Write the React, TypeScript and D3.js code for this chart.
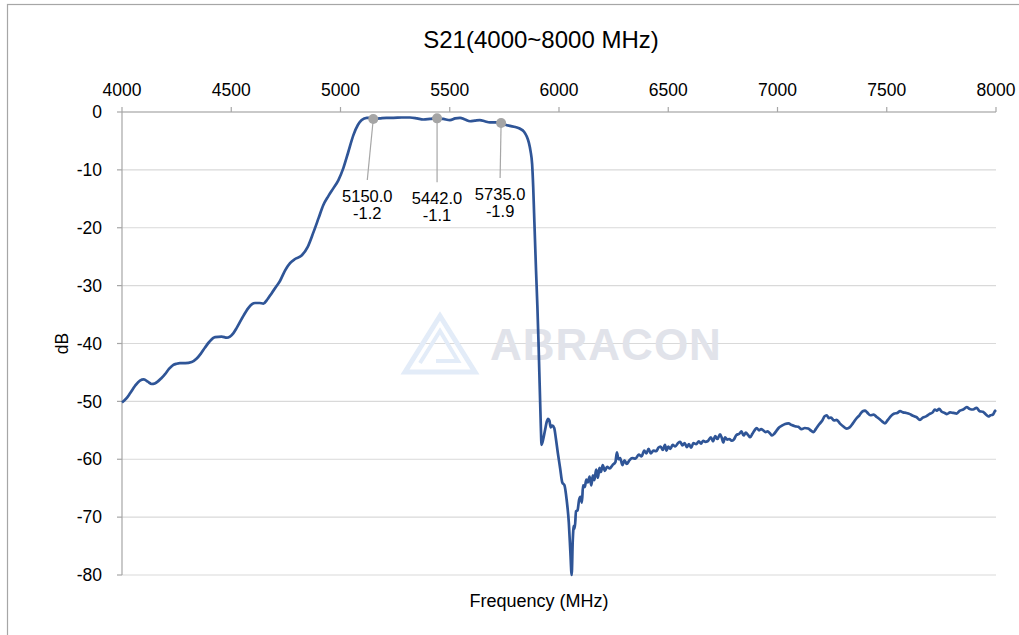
import React from 'react';
import * as d3 from 'd3';

// S21 sweep (MHz / dB)
const freq = [
  4000, 4020, 4037, 4060, 4082, 4100, 4118, 4136, 4150, 4163, 4180, 4197, 4215, 4235, 4250, 4265, 4290,
  4319, 4342, 4360, 4380, 4400, 4426, 4456, 4480, 4494, 4510, 4525, 4550, 4578, 4595, 4609, 4630, 4647,
  4665, 4685, 4705, 4723, 4746, 4769, 4792, 4822, 4850, 4876, 4900, 4921, 4945, 4967, 4990, 5013, 5035,
  5059, 5080, 5097, 5120, 5135, 5150, 5180, 5210, 5242, 5280, 5318, 5350, 5379, 5410, 5442, 5470, 5501,
  5525, 5547, 5570, 5593, 5615, 5638, 5660, 5684, 5710, 5735, 5755, 5776, 5800, 5822, 5840, 5852, 5862,
  5870, 5877, 5882, 5886, 5890, 5895, 5901, 5906, 5910, 5914, 5917, 5920, 5928, 5936, 5944, 5950, 5956,
  5962, 5970, 5978, 5986, 5995, 6005, 6015, 6025, 6035, 6045, 6052, 6058, 6063, 6068, 6072, 6078, 6085,
  6092, 6098, 6105, 6110, 6118, 6125, 6132, 6140, 6148, 6155, 6162, 6170, 6178, 6185, 6192, 6200, 6210,
  6220, 6232, 6245, 6258, 6265, 6272, 6280, 6290, 6300, 6310, 6322, 6335, 6350, 6365, 6378, 6390, 6400,
  6410, 6420, 6432, 6445, 6455, 6465, 6475, 6485, 6492, 6500, 6510, 6520, 6532, 6545, 6555, 6565, 6575,
  6585, 6595, 6605, 6615, 6628, 6640, 6650, 6660, 6670, 6680, 6695, 6705, 6715, 6725, 6737, 6745, 6752,
  6760, 6770, 6780, 6790, 6800, 6812, 6825, 6835, 6845, 6855, 6865, 6875, 6885, 6895, 6905, 6915, 6925,
  6935, 6945, 6955, 6965, 6975, 6985, 6995, 7005, 7020, 7035, 7050, 7065, 7080, 7095, 7110, 7125, 7140,
  7155, 7165, 7175, 7190, 7205, 7215, 7225, 7235, 7245, 7258, 7271, 7285, 7300, 7317, 7330, 7345, 7360,
  7375, 7390, 7400, 7410, 7425, 7440, 7454, 7465, 7480, 7492, 7505, 7520, 7535, 7548, 7561, 7575, 7590,
  7606, 7620, 7635, 7652, 7665, 7680, 7695, 7710, 7720, 7729, 7740, 7752, 7765, 7775, 7790, 7805, 7820,
  7835, 7850, 7866, 7880, 7895, 7911, 7925, 7940, 7955, 7965, 7975, 7985, 7995, 8000,
];
const s21 = [
  -50.2, -49.5, -48.6, -47.3, -46.4, -46.2, -46.6, -47.0, -46.9, -46.6, -46.0, -45.3, -44.4, -43.7, -43.5,
  -43.4, -43.4, -43.2, -42.6, -41.8, -40.7, -39.7, -38.9, -38.8, -39.0, -38.8, -38.2, -37.3, -35.6, -33.9,
  -33.2, -33.0, -33.0, -33.1, -32.4, -31.3, -30.2, -29.2, -27.4, -26.1, -25.4, -24.8, -23.3, -20.8, -18.3,
  -16.1, -14.5, -13.2, -11.8, -9.7, -7.0, -4.0, -2.2, -1.4, -1.0, -1.0, -1.2, -1.1, -1.0, -1.0, -0.95,
  -0.95, -1.1, -1.3, -1.2, -1.1, -1.2, -1.4, -1.1, -1.0, -1.3, -1.6, -1.5, -1.4, -1.6, -1.8, -1.8, -1.9,
  -2.2, -2.4, -2.6, -2.9, -3.4, -4.2, -5.3, -6.8, -9.0, -13.0, -17.5, -22.0, -27.5, -33.5, -39.5, -45.0,
  -50.5, -54.5, -57.5, -56.5, -55.0, -53.5, -53.0, -53.3, -54.5, -54.2, -54.6, -56.5, -59.0, -61.5, -64.0,
  -64.5, -67.0, -71.0, -76.0, -80.0, -74.0, -71.5, -72.0, -69.0, -68.8, -67.0, -66.5, -67.5, -64.5, -64.8,
  -63.5, -64.0, -63.0, -64.5, -62.8, -63.6, -61.8, -63.2, -61.5, -62.2, -61.0, -62.0, -61.3, -61.6, -61.0,
  -60.5, -58.8, -60.0, -59.8, -61.0, -60.2, -60.8, -60.2, -59.8, -59.9, -59.2, -59.5, -58.5, -59.0, -58.2,
  -59.0, -58.5, -58.6, -58.0, -57.8, -58.4, -57.5, -58.5, -57.8, -58.2, -57.5, -57.8, -57.2, -57.0, -57.6,
  -57.2, -57.9, -57.4, -58.0, -57.2, -57.4, -56.9, -57.3, -56.8, -57.0, -56.9, -56.2, -56.9, -56.0, -56.5,
  -55.7, -56.3, -57.1, -56.2, -56.6, -56.5, -56.8, -56.6, -55.8, -55.6, -55.2, -55.9, -55.4, -55.8, -56.2,
  -55.6, -55.0, -54.6, -55.0, -54.8, -55.0, -55.3, -55.2, -55.5, -55.9, -55.6, -55.1, -54.6, -54.2, -53.9,
  -53.8, -54.1, -54.3, -54.4, -54.8, -54.6, -54.7, -55.1, -55.3, -54.8, -54.0, -53.3, -52.6, -52.4, -52.9,
  -52.8, -53.3, -53.2, -53.8, -54.3, -54.7, -54.5, -53.8, -53.0, -52.4, -51.7, -51.6, -51.9, -52.4, -52.3,
  -52.7, -53.0, -53.5, -53.8, -53.2, -52.5, -52.1, -52.0, -51.7, -51.9, -52.0, -52.2, -52.5, -52.7, -53.2,
  -52.8, -52.6, -52.2, -51.9, -51.4, -51.6, -51.3, -51.8, -52.0, -52.2, -51.9, -52.0, -52.1, -51.6, -51.4,
  -51.0, -51.3, -51.4, -51.1, -51.7, -51.8, -52.3, -52.6, -52.4, -52.3, -51.7, -51.5,
];

const markerFreq = [5150.0, 5442.0, 5735.0];
const markerDb = [-1.2, -1.1, -1.9];

const xTickValues = [4000, 4500, 5000, 5500, 6000, 6500, 7000, 7500, 8000];
const yTickValues = [0, -10, -20, -30, -40, -50, -60, -70, -80];

const W = 1019;
const H = 635;
const margin = { top: 112, right: 23, bottom: 60, left: 122 };
const font = '"Liberation Sans", Arial, sans-serif';

// leader lengths / horizontal nudges of the data labels
const leaderLen = [61, 64, 55];
const labelDx = [-6, 0, -1];

export default function App() {
  const x = d3.scaleLinear().domain([4000, 8000]).range([margin.left, W - margin.right]);
  const y = d3.scaleLinear().domain([0, -80]).range([margin.top, H - margin.bottom]);

  const pts = freq.map((f, i) => [f, s21[i]] as [number, number]);
  const line = d3
    .line<[number, number]>()
    .curve(d3.curveMonotoneX)
    .x((d) => x(d[0]))
    .y((d) => y(d[1]));

  const x0 = margin.left;
  const x1 = W - margin.right;
  const y0 = margin.top;
  const y1 = H - margin.bottom;

  // watermark logo centre
  const lx = 440;
  const ly = 345;

  return (
    <svg
      width={W}
      height={H}
      style={{ position: 'absolute', left: 0, top: 0, background: '#fff' }}
      fontFamily={font}
    >
      <rect x={7.5} y={4.5} width={W + 10} height={H + 10} fill="#fff" stroke="#A6A6A6" strokeWidth={1.2} />

      <text x={541} y={48} textAnchor="middle" fontSize={24} fill="#000">
        S21(4000~8000 MHz)
      </text>

      {/* gridlines */}
      {yTickValues.map((v) => (
        <line key={'g' + v} x1={x0} x2={x1} y1={y(v)} y2={y(v)} stroke="#D9D9D9" strokeWidth={1.2} />
      ))}

      {/* watermark */}
      <g>
        <path
          d={`M${lx - 35},${ly + 27} L${lx},${ly - 29} L${lx + 35},${ly + 27} Z`}
          fill="none"
          stroke="#E3ECF8"
          strokeWidth={5}
          strokeLinejoin="miter"
        />
        <path
          d={`M${lx - 20},${ly + 18} L${lx},${ly - 14} L${lx + 18},${ly + 16} L${lx - 4},${ly + 16}`}
          fill="none"
          stroke="#E3ECF8"
          strokeWidth={4}
        />
        <text x={490} y={360} fontSize={44} fontWeight="bold" fill="#E1E3EA" letterSpacing={1}>
          ABRACON
        </text>
      </g>

      {/* axes */}
      <line x1={x0} x2={x1} y1={y0} y2={y0} stroke="#A6A6A6" strokeWidth={1.2} />
      <line x1={x0} x2={x0} y1={y0} y2={y1} stroke="#A6A6A6" strokeWidth={1.2} />
      {xTickValues.map((v) => (
        <g key={'x' + v}>
          <line x1={x(v)} x2={x(v)} y1={y0 - 5} y2={y0} stroke="#A6A6A6" strokeWidth={1.2} />
          <text x={x(v)} y={y0 - 16} textAnchor="middle" fontSize={17.5} fill="#000">
            {v}
          </text>
        </g>
      ))}
      {yTickValues.map((v) => (
        <g key={'y' + v}>
          <line x1={x0 - 5} x2={x0} y1={y(v)} y2={y(v)} stroke="#A6A6A6" strokeWidth={1.2} />
          <text x={x0 - 20} y={y(v)} dy="0.35em" textAnchor="end" fontSize={17.5} fill="#000">
            {v}
          </text>
        </g>
      ))}

      <text x={539} y={607} textAnchor="middle" fontSize={18} fill="#000">
        Frequency (MHz)
      </text>
      <text
        transform={`translate(68,${(y0 + y1) / 2}) rotate(-90)`}
        textAnchor="middle"
        fontSize={17.5}
        fill="#000"
      >
        dB
      </text>

      <path d={line(pts) || ''} fill="none" stroke="#2F5597" strokeWidth={2.7} strokeLinejoin="round" />

      {/* data labels */}
      {markerFreq.map((f, i) => {
        const mx = x(f);
        const my = y(markerDb[i]);
        const ex = mx + labelDx[i];
        const ey = my + leaderLen[i];
        return (
          <g key={'m' + f}>
            <line x1={mx} y1={my} x2={ex} y2={ey} stroke="#A6A6A6" strokeWidth={1.2} />
            <circle cx={mx} cy={my} r={5} fill="#A5A5A5" />
            <text x={ex} y={ey + 22} textAnchor="middle" fontSize={16.5} fill="#000">
              {f.toFixed(1)}
            </text>
            <text x={ex} y={ey + 39} textAnchor="middle" fontSize={16.5} fill="#000">
              {markerDb[i].toFixed(1)}
            </text>
          </g>
        );
      })}
    </svg>
  );
}
